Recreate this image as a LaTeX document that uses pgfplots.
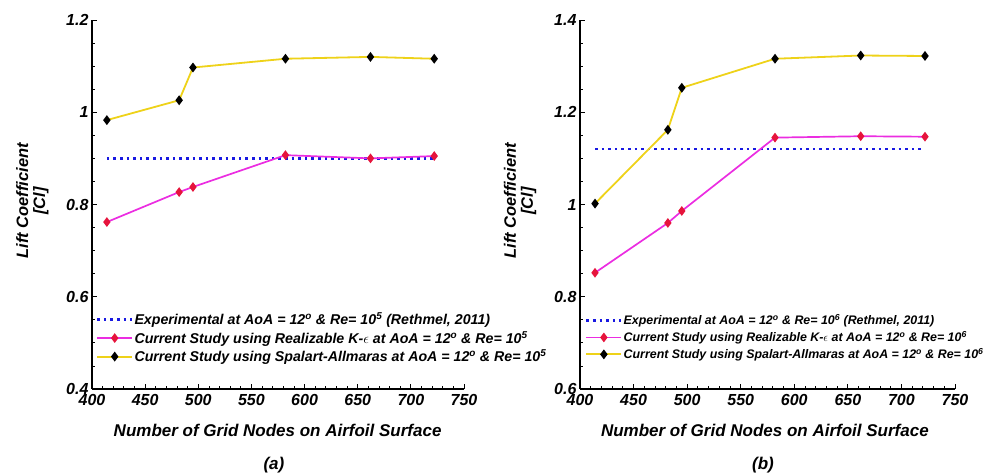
\documentclass[border=0pt]{standalone}
\usepackage{pgfplots}
\pgfplotsset{compat=1.18}
\usepackage{fontspec}
\setmainfont{Liberation Sans}
\definecolor{cyel}{RGB}{238,210,25}
\definecolor{cmag}{RGB}{235,45,225}
\definecolor{cred}{RGB}{230,20,60}
\definecolor{cblue}{RGB}{25,25,225}
\pgfplotsset{
 myax/.style={
  scale only axis, width=372pt, height=369pt, clip=false,
  axis x line*=bottom, axis y line*=left,
  axis line style={line width=1.3pt, black},
  xmin=400, xmax=750, xtick={400,450,500,550,600,650,700,750},
  minor x tick num=4, minor y tick num=3,
  tick align=inside, major tick length=5pt, minor tick length=3pt,
  every tick/.style={black, line width=0.8pt},
  /pgf/number format/assume math mode=true,
  tick label style={font=\fontsize{16}{16}\selectfont\bfseries\itshape},
  xticklabel style={yshift=-1.5pt},
  label style={font=\fontsize{17}{17}\selectfont\bfseries\itshape},
  xlabel={Number of Grid Nodes on Airfoil Surface},
  xlabel style={anchor=center},
  ylabel={Lift Coefficient\\{[Cl]}},
  ylabel style={align=center, anchor=center, font=\fontsize{16.5}{17}\selectfont\bfseries\itshape},
  legend cell align=left,
  legend image code/.code={\draw[mark repeat=2,mark phase=2,##1] plot coordinates {(0pt,0pt) (17.5pt,0pt) (35pt,0pt)};},
  legend style={draw=none, fill=none, inner sep=0pt, anchor=north west,
    nodes={inner sep=1pt}},
 },
 expst/.style={cblue, line width=2.6pt, dash pattern=on 2.6pt off 4pt},
 rkest/.style={cmag, line width=1.7pt, mark=diamond*, mark size=3.5pt, mark options={fill=cred, draw=cred, solid}},
 sast/.style={cyel, line width=1.8pt, mark=diamond*, mark size=3.5pt, mark options={fill=black, draw=black, solid}},
}
\begin{document}
\begin{tikzpicture}
\begin{axis}[myax, at={(92pt,85pt)}, anchor=south west,
  ymin=0.4, ymax=1.2, ytick={0.4,0.6,0.8,1,1.2},
  xlabel style={at={(axis description cs:0.499,-0.111)}},
  ylabel style={at={(axis description cs:-0.16,0.51)}},
  legend style={at={(axis description cs:0.01,0.21)}, row sep=3pt, font=\fontsize{14.2}{15}\selectfont\bfseries\itshape}]
\addplot[expst] coordinates {(414,0.9) (722,0.9)};
\addlegendentry{Experimental at AoA = 12\textsuperscript{o} \& Re= 10\textsuperscript{5} (Rethmel, 2011)}
\addplot[rkest] coordinates {(414,0.762) (482,0.827) (495,0.838) (582,0.907) (662,0.900) (722,0.905)};
\addlegendentry{Current Study using Realizable K-$\epsilon$ at AoA = 12\textsuperscript{o} \& Re= 10\textsuperscript{5}}
\addplot[sast] coordinates {(414,0.983) (482,1.026) (495,1.097) (582,1.116) (662,1.120) (722,1.116)};
\addlegendentry{Current Study using Spalart-Allmaras at AoA = 12\textsuperscript{o} \& Re= 10\textsuperscript{5}}
\node[font=\fontsize{17}{17}\selectfont\bfseries\itshape] at (axis description cs:0.489,-0.206) {(a)};
\end{axis}
\begin{axis}[myax, at={(580pt,85pt)}, anchor=south west, width=375pt,
  ymin=0.6, ymax=1.4, ytick={0.6,0.8,1,1.2,1.4},
  xlabel style={at={(axis description cs:0.493,-0.111)}},
  ylabel style={at={(axis description cs:-0.16,0.51)}},
  legend style={at={(axis description cs:0.013,0.205)}, row sep=3pt, font=\fontsize{12.4}{13}\selectfont\bfseries\itshape}]
\addplot[expst] coordinates {(414,1.12) (720,1.12)};
\addlegendentry{Experimental at AoA = 12\textsuperscript{o} \& Re= 10\textsuperscript{6} (Rethmel, 2011)}
\addplot[rkest] coordinates {(414,0.852) (482,0.960) (495,0.986) (582,1.145) (662,1.148) (722,1.147)};
\addlegendentry{Current Study using Realizable K-$\epsilon$ at AoA = 12\textsuperscript{o} \& Re= 10\textsuperscript{6}}
\addplot[sast] coordinates {(414,1.002) (482,1.162) (495,1.253) (582,1.316) (662,1.323) (722,1.322)};
\addlegendentry{Current Study using Spalart-Allmaras at AoA = 12\textsuperscript{o} \& Re= 10\textsuperscript{6}}
\node[font=\fontsize{17}{17}\selectfont\bfseries\itshape] at (axis description cs:0.488,-0.206) {(b)};
\end{axis}
\pgfresetboundingbox
\path[use as bounding box] (0pt,0pt) rectangle (987pt,474pt);
\end{tikzpicture}
\end{document}
